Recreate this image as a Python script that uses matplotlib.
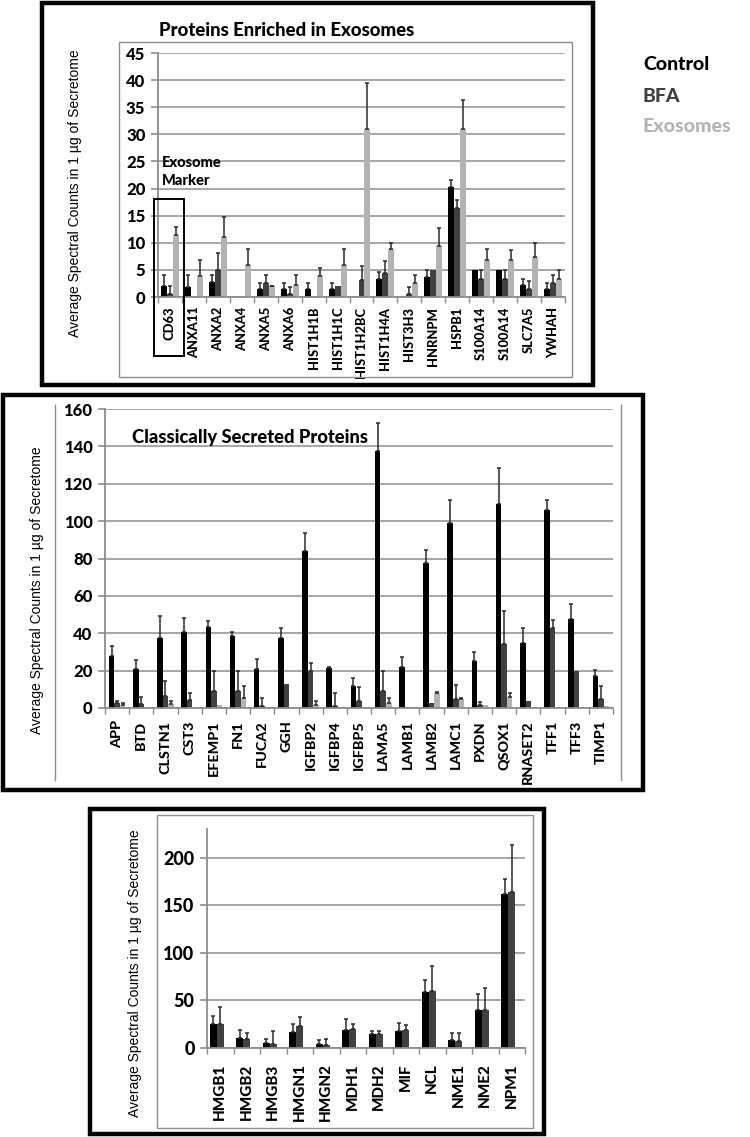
import matplotlib
matplotlib.use("Agg")
import matplotlib.pyplot as plt
from matplotlib.patches import Rectangle
from matplotlib.lines import Line2D
import numpy as np

# ---------------- data ----------------
cats1 = ["CD63", "ANXA11", "ANXA2", "ANXA4", "ANXA5", "ANXA6", "HIST1H1B", "HIST1H1C",
         "HIST1H2BC", "HIST1H4A", "HIST3H3", "HNRNPM", "HSPB1", "S100A14", "S100A14",
         "SLC7A5", "YWHAH"]
ctrl1 = [2.1, 1.8, 2.7, 0, 1.4, 1.4, 1.4, 1.4, 0, 3.3, 0, 3.7, 20.2, 5.0, 5.0, 2.3, 1.4]
ctrl1_err = [1.9, 2.3, 1.3, 0, 1.1, 1.1, 1.1, 1.1, 0, 1.3, 0, 1.2, 1.3, 0, 0, 1.1, 1.1]
bfa1 = [0.6, 0, 5.0, 0, 2.5, 0.5, 0, 2.0, 3.1, 4.4, 0.5, 5.0, 16.4, 3.4, 3.4, 1.4, 2.5]
bfa1_err = [1.4, 0, 3.2, 0, 1.5, 1.3, 0, 0, 2.7, 2.3, 1.4, 0, 1.5, 1.6, 1.6, 1.5, 1.5]
exo1 = [11.4, 3.8, 11.0, 5.9, 2.0, 2.3, 3.9, 5.9, 30.9, 8.8, 2.5, 9.4, 30.9, 6.9, 6.8, 7.4, 3.4]
exo1_err = [1.6, 3.1, 3.8, 3.0, 0.1, 1.7, 1.5, 3.0, 8.5, 1.2, 1.5, 3.4, 5.4, 2.0, 1.9, 2.6, 1.6]

cats2 = ["APP", "BTD", "CLSTN1", "CST3", "EFEMP1", "FN1", "FUCA2", "GGH", "IGFBP2", "IGFBP4",
         "IGFBP5", "LAMA5", "LAMB1", "LAMB2", "LAMC1", "PXDN", "QSOX1", "RNASET2", "TFF1",
         "TFF3", "TIMP1"]
ctrl2 = [27.8, 20.7, 37.4, 40.8, 43.5, 38.7, 20.8, 37.4, 84.0, 21.2, 11.6, 137.7, 22.1, 77.6,
         99.0, 25.2, 109.4, 34.6, 105.8, 47.5, 16.9]
ctrl2_err = [5.5, 5.0, 11.6, 7.3, 3.2, 1.9, 5.4, 5.2, 9.5, 0.9, 4.3, 14.8, 5.3, 7.1, 12.2,
             4.5, 18.8, 8.1, 5.4, 8.4, 3.7]
bfa2 = [2.8, 2.1, 6.6, 4.3, 9.3, 9.3, 1.1, 12.8, 20.0, 1.1, 3.9, 9.3, 0.7, 2.8, 4.6, 1.8,
        34.2, 3.9, 42.7, 20.0, 4.8]
bfa2_err = [1.1, 3.9, 7.6, 3.7, 10.7, 10.7, 4.1, 0, 4.3, 6.7, 7.1, 10.7, 0, 0, 7.5, 1.6,
            17.8, 0, 4.3, 0, 7.1]
exo2 = [1.6, 0, 2.1, 0.7, 1.6, 5.2, 0, 0, 1.6, 0, 0, 2.8, 0, 7.8, 4.6, 1.6, 5.7, 0, 0, 0, 1.1]
exo2_err = [1.2, 0, 1.8, 0, 0, 6.4, 0, 0, 2.3, 0, 0, 2.4, 0, 0.6, 0.7, 0, 2.3, 0, 0, 0, 0]

cats3 = ["HMGB1", "HMGB2", "HMGB3", "HMGN1", "HMGN2", "MDH1", "MDH2", "MIF", "NCL", "NME1",
         "NME2", "NPM1"]
ctrl3 = [25.5, 10.8, 5.6, 16.8, 3.8, 19.2, 14.3, 17.5, 58.7, 8.0, 39.5, 161.9]
ctrl3_err = [8.1, 8.4, 3.8, 8.0, 4.2, 11.6, 3.5, 8.7, 13.0, 7.7, 17.5, 15.7]
bfa3 = [25.5, 9.0, 4.5, 23.4, 2.8, 20.3, 14.3, 19.2, 59.4, 7.3, 39.5, 163.6]
bfa3_err = [17.5, 6.7, 13.3, 9.1, 7.0, 5.2, 3.5, 4.6, 26.3, 8.7, 23.8, 50.0]
exo3 = [0.5] * 12
exo3_err = [0] * 12

series_names = ["Control", "BFA", "Exosomes"]
series_colors = ["#000000", "#404040", "#b3b3b3"]

panel_titles = ["Proteins Enriched in Exosomes", "Classically Secreted Proteins"]
ylabel = "Average Spectral Counts in 1 µg of Secretome"

# ---------------- style ----------------
plt.rcParams["font.family"] = ["Lato", "DejaVu Sans"]
plt.rcParams["font.weight"] = "bold"
HEAVY = "black"

W, H = 750, 1137
fig = plt.figure(figsize=(W / 100, H / 100), dpi=100)
GRID = "#a6a6a6"
AXC = "#8c8c8c"


def ax_px(x0, y0, x1, y1):
    return fig.add_axes([x0 / W, 1 - y1 / H, (x1 - x0) / W, (y1 - y0) / H])


def rect_px(x0, y0, x1, y1, lw, color):
    fig.patches.append(Rectangle((x0 / W, 1 - y1 / H), (x1 - x0) / W, (y1 - y0) / H,
                                 transform=fig.transFigure, fill=False, lw=lw, ec=color))


def vline_px(x, y0, y1, lw, color):
    fig.lines.append(Line2D([x / W, x / W], [1 - y0 / H, 1 - y1 / H],
                            transform=fig.transFigure, lw=lw, color=color))


def panel(ax, cats, vals, errs, width, ylim, yticks, xfs, yfs, xpad):
    n = len(cats)
    x = np.arange(n)
    for i, (v, e, c) in enumerate(zip(vals, errs, series_colors)):
        v = np.asarray(v, float)
        e = np.asarray(e, float)
        pos = x + (i - 1) * width
        ax.bar(pos, v, width, color=c, zorder=2, linewidth=0)
        m = e > 0
        if m.any():
            ax.errorbar(pos[m], v[m], yerr=[np.zeros(m.sum()), e[m]], fmt="none",
                        ecolor="#2a2a2a", elinewidth=1.1, capsize=1.6, capthick=1.1, zorder=3)
    ax.set_xlim(-0.5, n - 0.5)
    ax.set_ylim(*ylim)
    ax.set_yticks(yticks)
    ax.set_yticklabels([str(t) for t in yticks], fontsize=yfs, fontweight=HEAVY)
    ax.yaxis.grid(True, color=GRID, lw=1.4)
    ax.set_axisbelow(True)
    for s in ["top", "right"]:
        ax.spines[s].set_visible(False)
    for s in ["left", "bottom"]:
        ax.spines[s].set_color(AXC)
        ax.spines[s].set_linewidth(1.3)
    ax.set_xticks(x)
    ax.set_xticklabels(cats, rotation=90, fontsize=xfs, fontweight=HEAVY)
    ax.set_xticks(np.arange(-0.5, n), minor=True)
    ax.tick_params(axis="x", which="major", length=0, pad=xpad)
    ax.tick_params(axis="x", which="minor", length=4, color=AXC, width=1)
    ax.tick_params(axis="y", length=5, color=AXC, width=1.2, pad=4)
    ax.patch.set_alpha(0)


# ---------------- panel 1 ----------------
rect_px(42, 3, 593, 385, 3.2, "black")
rect_px(119, 42, 572, 377, 1.0, AXC)
ax1 = ax_px(158, 53, 565, 297)
panel(ax1, cats1, [ctrl1, bfa1, exo1], [ctrl1_err, bfa1_err, exo1_err], 0.25,
      (0, 45), list(range(0, 46, 5)), 9.3, 12, 7)
fig.text(287 / W, 1 - 30 / H, panel_titles[0], ha="center", va="center", fontsize=13.4,
         fontweight=HEAVY)
ax1.text(-0.35, 23, "Exosome\nMarker", ha="left", va="center", fontsize=10.5,
         fontweight=HEAVY, linespacing=1.35)
ax1.add_patch(Rectangle((-0.67, -10.9), 1.25, 28.9, fill=False, lw=1.4, ec="black",
                        clip_on=False, zorder=5))
fig.text(75 / W, 1 - 193 / H, ylabel, rotation=90, ha="center", va="center",
         fontsize=10, fontweight="normal", family="Liberation Sans")

# legend text
for name, col, yy in zip(series_names, series_colors, [65, 97, 127]):
    fig.text(643 / W, 1 - yy / H, name, ha="left", va="center", fontsize=14,
             fontweight=HEAVY, color=col)

# ---------------- panel 2 ----------------
rect_px(3, 395, 643, 790, 3.2, "black")
vline_px(55, 405, 780, 1.0, AXC)
vline_px(621, 405, 780, 1.0, AXC)
ax2 = ax_px(105, 409, 613, 708)
panel(ax2, cats2, [ctrl2, bfa2, exo2], [ctrl2_err, bfa2_err, exo2_err], 0.23,
      (0, 160), list(range(0, 161, 20)), 10.3, 12, 9)
fig.text(132 / W, 1 - 438 / H, panel_titles[1], ha="left", va="center", fontsize=13.2,
         fontweight=HEAVY)
fig.text(37 / W, 1 - 590 / H, ylabel, rotation=90, ha="center", va="center",
         fontsize=10, fontweight="normal", family="Liberation Sans")

# ---------------- panel 3 ----------------
rect_px(90, 809, 544, 1134, 3.2, "black")
rect_px(157, 815, 533, 1128, 1.0, AXC)
ax3 = ax_px(207, 829, 525, 1048)
panel(ax3, cats3, [ctrl3, bfa3, exo3], [ctrl3_err, bfa3_err, exo3_err], 0.265,
      (0, 230), list(range(0, 201, 50)), 11, 13, 11)
fig.text(135 / W, 1 - 973 / H, ylabel, rotation=90, ha="center", va="center",
         fontsize=10, fontweight="normal", family="Liberation Sans")

fig.savefig("out.png", dpi=100)
